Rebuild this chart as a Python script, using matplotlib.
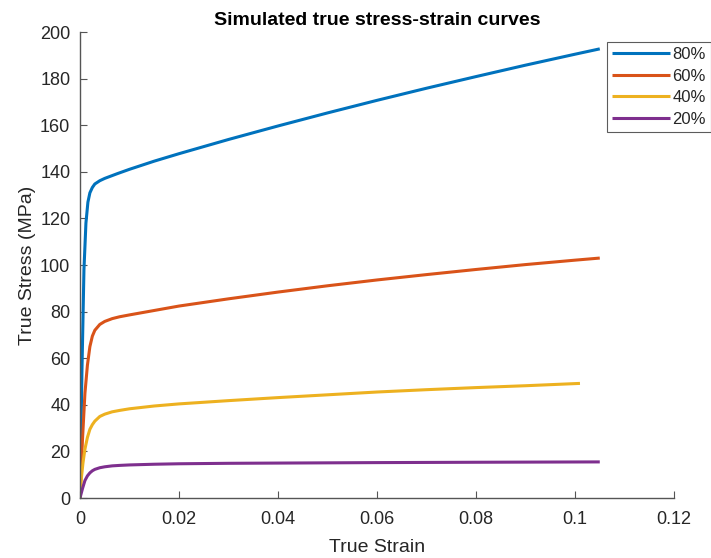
import matplotlib
matplotlib.use("Agg")
import matplotlib.pyplot as plt

plt.rcParams['font.family'] = ['Liberation Sans', 'DejaVu Sans']

# Simulated flow curves (true strain, true stress in MPa)
strain_80 = [0, 0.0004, 0.0008, 0.0012, 0.0016, 0.002, 0.0025, 0.003, 0.004, 0.005,
             0.0075, 0.01, 0.015, 0.02, 0.03, 0.04, 0.05, 0.06, 0.07, 0.08, 0.09, 0.1, 0.105]
stress_80 = [0, 55, 98, 118, 127, 131, 133.3, 134.8, 136.2, 137.2,
             139.2, 141.1, 144.6, 147.8, 153.9, 159.7, 165.3, 170.7, 175.9, 180.9, 185.8, 190.5, 192.8]

strain_60 = [0, 0.0005, 0.001, 0.0015, 0.002, 0.0025, 0.003, 0.004, 0.005, 0.0065,
             0.008, 0.01, 0.015, 0.02, 0.03, 0.04, 0.05, 0.06, 0.07, 0.08, 0.09, 0.1, 0.105]
stress_60 = [0, 25, 45, 57, 65, 69.5, 72, 74.5, 75.8, 77,
             77.8, 78.6, 80.5, 82.4, 85.5, 88.4, 91.1, 93.6, 95.9, 98.1, 100.2, 102.1, 103.0]

strain_40 = [0, 0.0003, 0.0006, 0.001, 0.0015, 0.002, 0.0025, 0.003, 0.004, 0.005,
             0.0065, 0.008, 0.01, 0.015, 0.02, 0.03, 0.04, 0.05, 0.06, 0.07, 0.08, 0.09, 0.101]
stress_40 = [0, 9, 15, 21, 26, 29.5, 31.5, 33, 35, 36,
             37, 37.6, 38.3, 39.5, 40.4, 41.8, 43.1, 44.3, 45.5, 46.5, 47.4, 48.2, 49.2]

strain_20 = [0, 0.0005, 0.001, 0.0015, 0.002, 0.0025, 0.003, 0.004, 0.005, 0.0065,
             0.008, 0.01, 0.015, 0.02, 0.03, 0.04, 0.06, 0.08, 0.105]
stress_20 = [0, 4, 7.5, 9.5, 10.8, 11.7, 12.3, 13, 13.4, 13.8,
             14.0, 14.2, 14.5, 14.7, 14.9, 15.0, 15.2, 15.35, 15.5]

labels = ['80%', '60%', '40%', '20%']
colors = ['#0072BD', '#D95319', '#EDB120', '#7E2F8E']

x_ticks = [0, 0.02, 0.04, 0.06, 0.08, 0.1, 0.12]
x_tick_labels = ['0', '0.02', '0.04', '0.06', '0.08', '0.1', '0.12']
y_ticks = list(range(0, 201, 20))

fig = plt.figure(figsize=(7.11, 5.58), dpi=100)
ax = fig.add_axes([0.1125, 0.1075, 0.8355, 0.835])

series = [(strain_80, stress_80), (strain_60, stress_60),
          (strain_40, stress_40), (strain_20, stress_20)]
for (x, y), lab, c in zip(series, labels, colors):
    ax.plot(x, y, color=c, lw=2.2, label=lab, solid_capstyle='butt')

ax.set_xlim(0, 0.12)
ax.set_ylim(0, 200)
ax.set_xticks(x_ticks)
ax.set_xticklabels(x_tick_labels)
ax.set_yticks(y_ticks)

axis_col = '#555555'
text_col = '#262626'
for side in ['top', 'right']:
    ax.spines[side].set_visible(False)
for side in ['left', 'bottom']:
    ax.spines[side].set_color(axis_col)
    ax.spines[side].set_linewidth(1.0)
ax.tick_params(direction='in', length=5, width=0.8, color=axis_col,
               labelsize=13, labelcolor=text_col)
ax.tick_params(axis='x', pad=9)
ax.tick_params(axis='y', pad=7)

ax.set_xlabel('True Strain', fontsize=14, color=text_col, labelpad=8)
ax.set_ylabel('True Stress (MPa)', fontsize=14, color=text_col, labelpad=3)
ax.set_title('Simulated true stress-strain curves', fontsize=14,
             fontweight='bold', color='black', pad=5)

leg = ax.legend(loc='upper right', bbox_to_anchor=(1.0, 1 - 42 / 558),
                bbox_transform=fig.transFigure, fontsize=12,
                handlelength=3.5, handletextpad=0.15, labelspacing=0.4,
                borderpad=0.3, borderaxespad=0, frameon=True, fancybox=False)
leg.get_frame().set_edgecolor('#333333')
leg.get_frame().set_linewidth(0.8)
for t in leg.get_texts():
    t.set_color(text_col)

fig.savefig('out.png', dpi=100)
